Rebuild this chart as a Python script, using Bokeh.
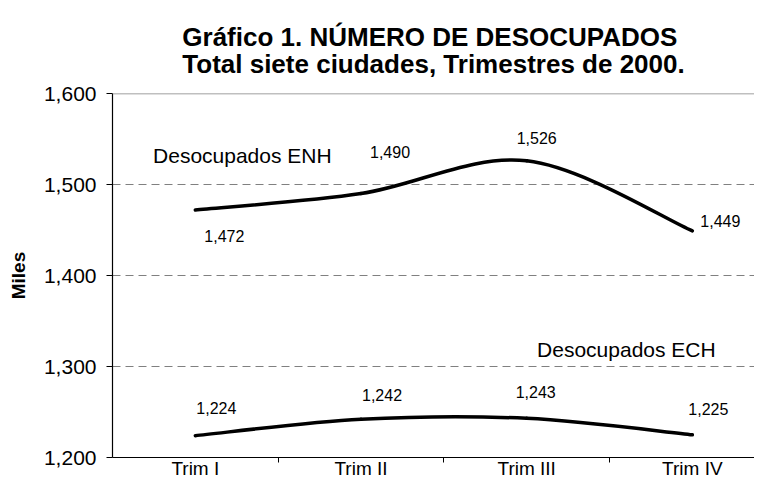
import numpy as np
from bokeh.plotting import figure
from bokeh.models import FixedTicker, Span, Title, Range1d
from bokeh.core.properties import value
from bokeh.embed import file_html
from bokeh.resources import INLINE

# ---------------- data ----------------
categories = ["Trim I", "Trim II", "Trim III", "Trim IV"]
enh = [1472, 1490, 1526, 1449]
ech = [1224, 1242, 1243, 1225]
series_names = ["Desocupados ENH", "Desocupados ECH"]
y_ticks = [1200, 1300, 1400, 1500, 1600]
title_lines = ["Gráfico 1. NÚMERO DE DESOCUPADOS",
               "Total siete ciudades, Trimestres de 2000."]

FONT = "Liberation Sans"

xs = np.arange(len(categories)) + 0.5
x_end = 3.875

p = figure(width=754, height=481, output_backend="svg", toolbar_location=None,
           x_range=Range1d(0, x_end), y_range=Range1d(y_ticks[0], y_ticks[-1]))
p.outline_line_color = None
p.background_fill_color = "white"
p.border_fill_color = "white"
p.min_border_left = 112
p.min_border_right = 0
p.min_border_top = 93
p.min_border_bottom = 23

# x axis
xax = p.xaxis[0]
xax.ticker = FixedTicker(ticks=list(xs), minor_ticks=list(np.arange(1, len(categories))))
xax.major_label_overrides = {float(x): c for x, c in zip(xs, categories)}
xax.major_tick_out = 0
xax.major_tick_in = 0
xax.minor_tick_out = 5
xax.minor_tick_in = 0
xax.minor_tick_line_color = "black"
xax.axis_line_color = "black"
xax.axis_line_width = 1.2
xax.major_label_text_font = FONT
xax.major_label_text_font_size = "19px"
xax.major_label_text_color = "black"
xax.major_label_standoff = -5
xax.axis_label_standoff = 0
p.xgrid.visible = False

# y axis
yax = p.yaxis[0]
yax.ticker = FixedTicker(ticks=y_ticks, minor_ticks=[])
yax.major_label_overrides = {t: f"{t:,}" for t in y_ticks}
yax.major_tick_out = 6
yax.major_tick_in = 0
yax.major_tick_line_color = "black"
yax.axis_line_color = "black"
yax.axis_line_width = 1.2
yax.major_label_text_font = FONT
yax.major_label_text_font_size = "21px"
yax.major_label_text_color = "black"
yax.major_label_standoff = 10
yax.axis_label = "Miles"
yax.axis_label_text_font = FONT
yax.axis_label_text_font_size = "19px"
yax.axis_label_text_font_style = "bold"
yax.axis_label_text_color = "black"
yax.axis_label_standoff = 12

p.ygrid.grid_line_color = "#808080"
p.ygrid.grid_line_dash = "8 5"
p.ygrid.grid_line_width = 1
p.add_layout(Span(location=y_ticks[-1], dimension="width", line_color="#808080", line_width=1.5))

# smoothed lines (cubic Bezier through the data points)
def bezier_segments(xv, yv, t=1/6):
    xv = np.asarray(xv, float)
    yv = np.asarray(yv, float)
    n = len(xv)
    xp = np.concatenate([[xv[0]], xv, [xv[-1]]])
    yp = np.concatenate([[yv[0]], yv, [yv[-1]]])
    i = np.arange(n - 1)
    return dict(
        x0=xv[:-1], y0=yv[:-1], x1=xv[1:], y1=yv[1:],
        cx0=xp[i + 1] + (xp[i + 2] - xp[i]) * t,
        cy0=yp[i + 1] + (yp[i + 2] - yp[i]) * t,
        cx1=xp[i + 2] - (xp[i + 3] - xp[i + 1]) * t,
        cy1=yp[i + 2] - (yp[i + 3] - yp[i + 1]) * t,
    )

for vals in (enh, ech):
    seg = bezier_segments(xs, vals)
    p.bezier(**seg, line_color="black", line_width=3.5, line_cap="round")

# data labels
label_offsets = {
    "enh": ([29, 29, 10, 28], [26, -42, -23, -10]),
    "ech": ([21, 21, 9, 16], [-28, -24, -26, -26]),
}
for key, vals in (("enh", enh), ("ech", ech)):
    dx, dy = label_offsets[key]
    p.text(x=list(xs), y=vals, text=[f"{v:,}" for v in vals],
           x_offset=dx, y_offset=dy, text_align="center", text_baseline="middle",
           text_font=value(FONT), text_font_size="16px", text_color="black")

# series names
p.text(x=[xs[0]], y=[enh[0]], text=[series_names[0]], x_offset=47, y_offset=-54,
       text_align="center", text_baseline="middle",
       text_font=value(FONT), text_font_size="21px", text_color="black")
p.text(x=[xs[-1]], y=[ech[-1]], text=[series_names[1]], x_offset=-66, y_offset=-85,
       text_align="center", text_baseline="middle",
       text_font=value(FONT), text_font_size="21px", text_color="black")

# title (two lines)
p.add_layout(Title(text="\n".join(title_lines), align="center",
                   text_font=FONT, text_font_size="26px", text_font_style="bold",
                   text_color="black", text_line_height=0.9, standoff=30), "above")

open("out.html", "w").write(file_html(p, INLINE))
